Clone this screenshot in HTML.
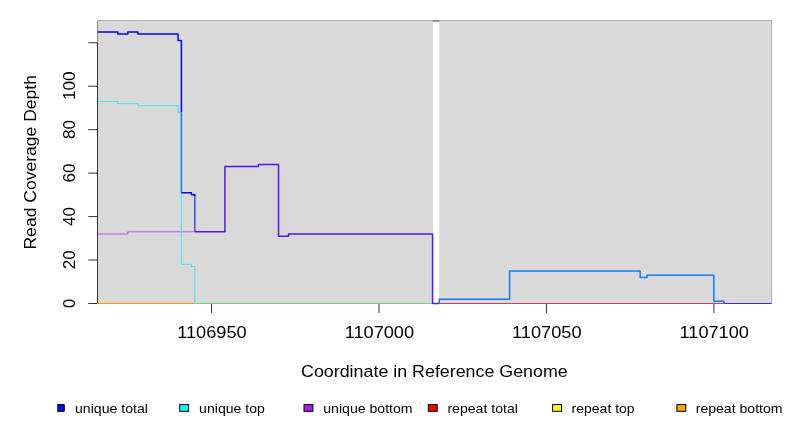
<!DOCTYPE html>
<html><head><meta charset="utf-8"><title>Coverage plot</title>
<style>
html,body{margin:0;padding:0;background:#fff;}
body{width:792px;height:432px;overflow:hidden;position:relative;font-family:"Liberation Sans",sans-serif;}
svg text{font-family:"Liberation Sans",sans-serif;}
</style></head><body>
<svg width="792" height="432" viewBox="0 0 792 432" style="position:absolute;left:0;top:0;will-change:transform">
<rect x="0" y="0" width="792" height="432" fill="#ffffff"/>
<rect x="97" y="20" width="675" height="1" fill="#b0b0b0"/>
<rect x="771" y="21" width="1" height="283" fill="#b0b0b0"/>
<rect x="97" y="21" width="1" height="21.76" fill="#8a8a8a"/>
<rect x="98" y="21" width="335.01" height="282.5" fill="#d9d9d9"/>
<rect x="439.21" y="21" width="331.79" height="282.5" fill="#d9d9d9"/>
<rect x="433.01" y="20.6" width="6.2" height="1.1" fill="#606060"/>
<g stroke="#000" stroke-width="0.8" fill="none">
<path d="M97.5 42.76V303.5"/>
<path d="M88.2 303.5H97.5"/>
<path d="M88.2 260.04H97.5"/>
<path d="M88.2 216.59H97.5"/>
<path d="M88.2 173.13H97.5"/>
<path d="M88.2 129.68H97.5"/>
<path d="M88.2 86.22H97.5"/>
<path d="M88.2 42.76H97.5"/>
<path d="M211.55 303.5V313"/>
<path d="M378.99 303.5V313"/>
<path d="M546.42 303.5V313"/>
<path d="M713.86 303.5V313"/>
</g>
<g stroke-width="0.8" fill="none">
<path d="M97.5 303.5H194.81" stroke="#ff9a00" stroke-width="1"/>
<path d="M194.81 303.5H432.56" stroke="#7acb88" stroke-width="1"/>
<path d="M439.26 303.5H723.9" stroke="#d43c6c" stroke-width="1"/>
<path d="M97.69 233.97H127.83V231.8H194.81" stroke="#a828ee" stroke-width="0.72"/>
<path d="M97.69 101.43H117.79V103.6H137.88V105.78H178.06V112.29H181.41V264.39H191.46V266.56H194.81V303.5" stroke="#00f0f5" stroke-width="0.72"/>
</g>
<g stroke-width="1.5" fill="none" stroke-linejoin="round">
<path d="M97.69 31.9H117.79V34.07H127.83V31.9H137.88V34.07H178.06V40.59H181.41V112.29" stroke="#0000ff"/>
<path d="M181.41 112.29V192.69" stroke="#0a7cff"/>
<path d="M194.81 194.86V231.8" stroke="#4444f6"/>
<path d="M181.41 192.69H191.46V194.86H194.81v1" stroke="#0000ff"/>
<path d="M194.81 231.8H224.94V166.61H258.43V164.44H278.52V236.14H288.57V233.97H432.56V303.5H439.26" stroke="#5018f2"/>
<path d="M439.26 303.5V299.15H509.58V270.91H640.18V277.43H646.88V275.25H713.86V301.33H723.9V303.5" stroke="#0a7cff"/>
<path d="M723.9 303.5H771.6" stroke="#5018f2" stroke-width="1"/>
</g>
<g font-family="'Liberation Sans', sans-serif">
<text x="211.95" y="337.7" font-size="16.3" text-anchor="middle" textLength="69.4" lengthAdjust="spacingAndGlyphs" fill="#000">1106950</text>
<text x="379.39" y="337.7" font-size="16.3" text-anchor="middle" textLength="69.4" lengthAdjust="spacingAndGlyphs" fill="#000">1107000</text>
<text x="546.82" y="337.7" font-size="16.3" text-anchor="middle" textLength="69.4" lengthAdjust="spacingAndGlyphs" fill="#000">1107050</text>
<text x="714.26" y="337.7" font-size="16.3" text-anchor="middle" textLength="69.4" lengthAdjust="spacingAndGlyphs" fill="#000">1107100</text>
<text x="434.4" y="376.8" font-size="16.3" text-anchor="middle" textLength="266.7" lengthAdjust="spacingAndGlyphs" fill="#000">Coordinate in Reference Genome</text>
<text x="36.1" y="162.3" font-size="16.3" text-anchor="middle" textLength="174.5" lengthAdjust="spacingAndGlyphs" transform="rotate(-90 36.1 162.3)" fill="#000">Read Coverage Depth</text>
<text x="75.1" y="303.5" font-size="16.3" text-anchor="middle" textLength="9.1" lengthAdjust="spacingAndGlyphs" transform="rotate(-90 75.1 303.5)" fill="#000">0</text>
<text x="75.1" y="259.84" font-size="16.3" text-anchor="middle" textLength="19.0" lengthAdjust="spacingAndGlyphs" transform="rotate(-90 75.1 259.84)" fill="#000">20</text>
<text x="75.1" y="216.39" font-size="16.3" text-anchor="middle" textLength="19.0" lengthAdjust="spacingAndGlyphs" transform="rotate(-90 75.1 216.39)" fill="#000">40</text>
<text x="75.1" y="172.93" font-size="16.3" text-anchor="middle" textLength="19.0" lengthAdjust="spacingAndGlyphs" transform="rotate(-90 75.1 172.93)" fill="#000">60</text>
<text x="75.1" y="129.48" font-size="16.3" text-anchor="middle" textLength="19.0" lengthAdjust="spacingAndGlyphs" transform="rotate(-90 75.1 129.48)" fill="#000">80</text>
<text x="75.1" y="85.72" font-size="16.3" text-anchor="middle" textLength="28.7" lengthAdjust="spacingAndGlyphs" transform="rotate(-90 75.1 85.72)" fill="#000">100</text>
<rect x="57.2" y="404.6" width="7.1" height="6.7" fill="#0000ff"/>
<path d="M57.2 404.6H64.3V411.3H57.2" fill="none" stroke="#000" stroke-width="1"/>
<text x="74.95" y="412.7" font-size="12.6" text-anchor="start" textLength="73.0" lengthAdjust="spacingAndGlyphs" fill="#000">unique total</text>
<rect x="179.7" y="404.6" width="8.9" height="6.7" fill="#00ffff" stroke="#000" stroke-width="1"/>
<text x="199.1" y="412.7" font-size="12.6" text-anchor="start" textLength="65.8" lengthAdjust="spacingAndGlyphs" fill="#000">unique top</text>
<rect x="304.0" y="404.6" width="8.9" height="6.7" fill="#a020f0" stroke="#000" stroke-width="1"/>
<text x="323.25" y="412.7" font-size="12.6" text-anchor="start" textLength="89.3" lengthAdjust="spacingAndGlyphs" fill="#000">unique bottom</text>
<rect x="428.3" y="404.6" width="8.9" height="6.7" fill="#ff0000" stroke="#000" stroke-width="1"/>
<text x="447.4" y="412.7" font-size="12.6" text-anchor="start" textLength="70.5" lengthAdjust="spacingAndGlyphs" fill="#000">repeat total</text>
<rect x="552.6" y="404.6" width="8.9" height="6.7" fill="#ffff00" stroke="#000" stroke-width="1"/>
<text x="571.55" y="412.7" font-size="12.6" text-anchor="start" textLength="63.1" lengthAdjust="spacingAndGlyphs" fill="#000">repeat top</text>
<rect x="676.9" y="404.6" width="8.9" height="6.7" fill="#ffa500" stroke="#000" stroke-width="1"/>
<text x="695.7" y="412.7" font-size="12.6" text-anchor="start" textLength="86.9" lengthAdjust="spacingAndGlyphs" fill="#000">repeat bottom</text>
</g>
<rect x="419" y="403" width="2" height="1" fill="#d2d2d2"/>
</svg>
</body></html>
